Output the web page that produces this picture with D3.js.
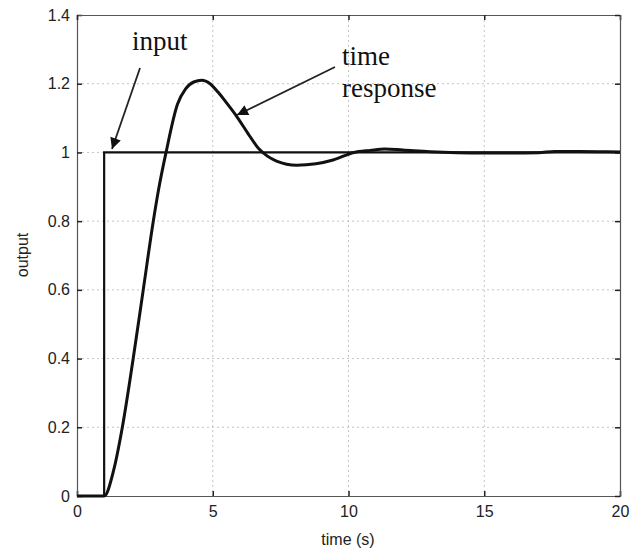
<!DOCTYPE html>
<html>
<head>
<meta charset="utf-8">
<script src="https://cdn.jsdelivr.net/npm/d3@7"></script>
<style>
  html, body { margin: 0; padding: 0; background: #fff; }
  svg { display: block; }
</style>
</head>
<body>
<svg id="chart" width="631" height="554"></svg>
<script>
// ---- data ----
const xTicks = [0, 5, 10, 15, 20];
const yTicks = [0, 0.2, 0.4, 0.6, 0.8, 1, 1.2, 1.4];
const inputT = [0, 1, 1, 20];
const inputY = [0, 0, 1, 1];
const respT = [0, 1, 1.35, 1.67, 2.07, 2.44, 2.81, 3.0, 3.28, 3.7, 4.0, 4.3, 4.6, 4.9, 5.2, 5.5, 5.88, 6.3, 6.68, 7.0, 7.35, 8.09, 8.8, 9.43, 10.2, 10.8, 11.34, 12.0, 13.0, 14.0, 15.0, 16.0, 17.0, 17.6, 18.5, 19.5, 20];
const respY = [0, 0, 0.075, 0.2, 0.4, 0.6, 0.8, 0.89, 1.0, 1.14, 1.185, 1.205, 1.21, 1.2, 1.175, 1.145, 1.105, 1.055, 1.012, 0.99, 0.975, 0.963, 0.967, 0.978, 1.0, 1.006, 1.01, 1.007, 1.002, 0.999, 0.998, 0.998, 0.999, 1.003, 1.003, 1.002, 1.001];
const labels = [
  { text: "input", x: 132, y: 50 },
  { text: "time", x: 342, y: 65 },
  { text: "response", x: 342, y: 97 }
];
const arrows = [
  { x1: 140, y1: 68, x2: 112, y2: 149 },
  { x1: 335, y1: 67, x2: 237, y2: 115 }
];

// ---- chart ----
const svg = d3.select("#chart");
const L = 77, R = 620, T = 15, B = 496;
const x = d3.scaleLinear().domain([0, 20]).range([L, R]);
const y = d3.scaleLinear().domain([0, 1.4]).range([B, T]);

svg.append("rect").attr("width", 631).attr("height", 554).attr("fill", "#fff");

// grid
const grid = svg.append("g").attr("stroke", "#c4c4c4").attr("stroke-width", 1).attr("stroke-dasharray", "2,3");
grid.selectAll(".gx").data(xTicks.slice(1, -1)).enter().append("line")
  .attr("x1", d => x(d)).attr("x2", d => x(d)).attr("y1", T).attr("y2", B);
grid.selectAll(".gy").data(yTicks.slice(1, -1)).enter().append("line")
  .attr("y1", d => y(d)).attr("y2", d => y(d)).attr("x1", L).attr("x2", R);

// axes
const fontSans = "'Liberation Sans', Arial, sans-serif";
const ax = svg.append("g").attr("transform", `translate(0,${B})`)
  .call(d3.axisBottom(x).tickValues(xTicks).tickFormat(d3.format("d")).tickSize(-5).tickPadding(10));
const ay = svg.append("g").attr("transform", `translate(${L},0)`)
  .call(d3.axisLeft(y).tickValues(yTicks).tickFormat(d => d === 0 || d === 1 ? String(d) : d3.format(".1f")(d)).tickSize(-5).tickPadding(7));
const axTop = svg.append("g").attr("transform", `translate(0,${T})`)
  .call(d3.axisTop(x).tickValues(xTicks).tickFormat("").tickSize(-5));
const ayR = svg.append("g").attr("transform", `translate(${R},0)`)
  .call(d3.axisRight(y).tickValues(yTicks).tickFormat("").tickSize(-5));
[ax, ay, axTop, ayR].forEach(g => {
  g.select(".domain").attr("stroke", "#555").attr("stroke-width", 1.2);
  g.selectAll(".tick line").attr("stroke", "#222").attr("stroke-width", 1.5);
  g.selectAll(".tick text").attr("font-family", fontSans).attr("font-size", 16).attr("fill", "#222");
});

// lines
const line = d3.line().x(d => x(d[0])).y(d => y(d[1]));
const smooth = d3.line().x(d => x(d[0])).y(d => y(d[1])).curve(d3.curveMonotoneX);
svg.append("path").datum(inputT.map((t, i) => [t, inputY[i]]))
  .attr("d", line).attr("fill", "none").attr("stroke", "#111").attr("stroke-width", 2.2);
svg.append("path").datum(respT.map((t, i) => [t, respY[i]]))
  .attr("d", smooth).attr("fill", "none").attr("stroke", "#111").attr("stroke-width", 3).attr("stroke-linejoin", "round");

// axis titles
svg.append("text").attr("x", 348).attr("y", 545).attr("text-anchor", "middle")
  .attr("font-family", fontSans).attr("font-size", 16).attr("fill", "#222").text("time (s)");
svg.append("text").attr("transform", "translate(28,255) rotate(-90)").attr("text-anchor", "middle")
  .attr("font-family", fontSans).attr("font-size", 16).attr("fill", "#222").text("output");

// annotations
svg.append("defs").append("marker").attr("id", "ah").attr("viewBox", "0 0 10 10")
  .attr("refX", 10).attr("refY", 5).attr("markerWidth", 14).attr("markerHeight", 11)
  .attr("markerUnits", "userSpaceOnUse").attr("orient", "auto")
  .append("path").attr("d", "M0,0 L10,5 L0,10 Z").attr("fill", "#111");
svg.selectAll(".arr").data(arrows).enter().append("line")
  .attr("x1", d => d.x1).attr("y1", d => d.y1).attr("x2", d => d.x2).attr("y2", d => d.y2)
  .attr("stroke", "#222").attr("stroke-width", 1.8).attr("marker-end", "url(#ah)");
svg.selectAll(".lab").data(labels).enter().append("text")
  .attr("x", d => d.x).attr("y", d => d.y)
  .attr("font-family", "'Liberation Serif', 'Times New Roman', serif").attr("font-size", 27).attr("fill", "#111")
  .text(d => d.text);
</script>
</body>
</html>
